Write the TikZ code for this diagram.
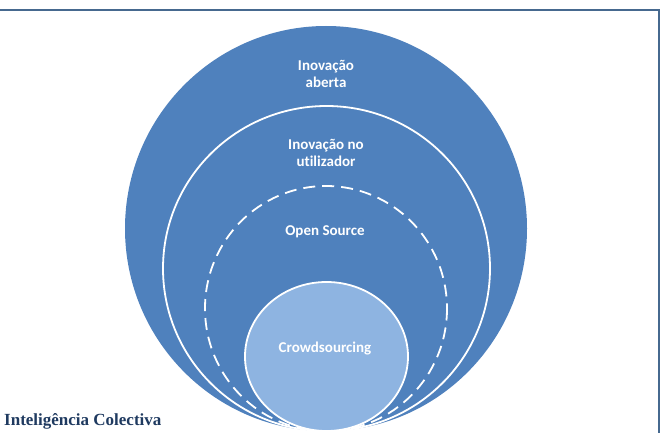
\documentclass[tikz,border=0pt]{standalone}
\usepackage{fontspec}
\setmainfont{Liberation Serif}
\newfontfamily\labelfont[Ligatures=NoCommon]{Carlito}
\definecolor{outerblue}{HTML}{4F81BD}
\definecolor{innerblue}{HTML}{8EB4E1}
\definecolor{framecol}{HTML}{46698F}
\definecolor{titlecol}{HTML}{1F3A60}
\tikzset{
  ringline/.style={draw=white, line width=1.8pt},
  dashring/.style={draw=white, line width=1.8pt, dash pattern=on 12pt off 7pt},
  lbl/.style={text=white, font=\labelfont\bfseries\fontsize{15}{17.5}\selectfont, align=center, inner sep=0pt},
}
\begin{document}
\begin{tikzpicture}[x=1pt,y=-1pt]
\useasboundingbox (0,0) rectangle (661,433);
\fill[white] (0,0) rectangle (661,433);
% frame
\draw[framecol, line width=2pt] (0,10) -- (659,10) -- (659,433);
% ellipses
\fill[outerblue] (326,228.5) ellipse [x radius=201, y radius=202.5];
\draw[ringline, fill=outerblue] (326.5,268.5) ellipse [x radius=163.5, y radius=162.5];
\draw[dashring] (326,308.5) ellipse [x radius=121, y radius=122.5];
\draw[ringline, fill=innerblue] (326.5,356.5) ellipse [x radius=81.5, y radius=74.5];
% labels
\node[lbl] (aberta) at (326,74) {Inovação\\aberta};
\node[lbl] (utilizador) at (326,153) {Inovação no\\utilizador};
\node[lbl] (open) at (325,232) {Open Source};
\node[lbl] (crowd) at (325,349) {Crowdsourcing};
\node[anchor=base west, text=titlecol, font=\bfseries\fontsize{17}{19}\selectfont, inner sep=0pt] (ic) at (4,425) {Inteligência Colectiva};
\end{tikzpicture}
\end{document}
